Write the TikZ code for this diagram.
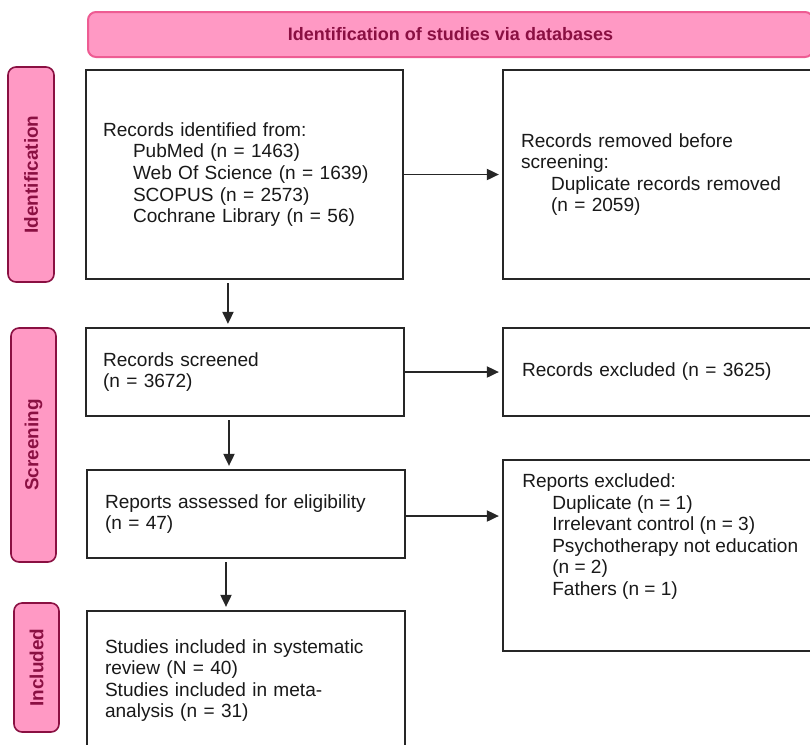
\documentclass[tikz,border=0pt]{standalone}
\usepackage{fontspec}
\setmainfont{Liberation Sans}
\usetikzlibrary{arrows.meta}
\definecolor{pinkfill}{HTML}{FF99C4}
\definecolor{bannerline}{HTML}{EE5C93}
\definecolor{maroonc}{HTML}{8A1042}
\definecolor{boxline}{HTML}{262626}
\newcommand{\ind}{\hspace*{22.5pt}}
\begin{document}
\begin{tikzpicture}[x=0.75pt,y=-0.75pt,
  bodyfont/.style={font=\fontsize{14.3pt}{16.2pt}\selectfont},
  flowbox/.style={draw=boxline, line width=1.3pt, fill=white, align=left,
    bodyfont, inner sep=0pt, text=black!90},
  txt/.style={align=left, bodyfont, inner sep=0pt, text=black!90},
  banner/.style={draw=bannerline, line width=1.5pt, fill=pinkfill, rounded corners=6pt,
    font=\fontsize{13.5pt}{16pt}\selectfont\bfseries, text=maroonc, inner sep=0pt},
  phase/.style={draw=maroonc, line width=1.2pt, fill=pinkfill, rounded corners=6pt,
    font=\fontsize{14.2pt}{16pt}\selectfont\bfseries, text=maroonc, inner sep=0pt, rotate=90},
  conn/.style={-{Triangle[length=9pt,width=8.5pt]}, line width=0.8pt, draw=black!85,
    shorten >=2.5pt}
]
\useasboundingbox (0,0) rectangle (810,744);
\clip (0,0) rectangle (810,744);

% banner
\node[banner, minimum width=543.75pt, minimum height=33.75pt] (ban) at (450.5,34.5)
  {Identification of studies via databases};

% phase labels
\node[phase, minimum width=161.25pt, minimum height=34.5pt] (lid) at (31,174.5) {Identification};
\node[phase, minimum width=175.5pt, minimum height=33.75pt] (lsc) at (33.5,445) {Screening};
\node[phase, minimum width=96.75pt, minimum height=33.75pt] (lin) at (36.5,667.5) {Included};

% boxes
\node[flowbox, minimum width=237.75pt, text width=212.25pt, minimum height=156.75pt] (b1) at (244.5,174.5)
  {Records identified from:\\
   \ind PubMed (n = 1463)\\
   \ind Web Of Science (n = 1639)\\
   \ind SCOPUS (n = 2573)\\
   \ind Cochrane Library (n = 56)};
\node[flowbox, minimum width=245.25pt, text width=218.25pt, minimum height=156.75pt] (b2) at (666.5,174.5)
  {Records removed before\\
   screening:\\
   \ind Duplicate records removed\\
   \ind (n = 2059)};
\node[flowbox, minimum width=238.5pt, text width=213pt, minimum height=66pt] (b3) at (245,372)
  {Records screened\\
   (n = 3672)};
\node[flowbox, minimum width=245.25pt, text width=216.75pt, minimum height=66pt] (b4) at (666.5,372)
  {Records excluded (n = 3625)};
\node[flowbox, minimum width=238.5pt, text width=211.5pt, minimum height=66pt] (b5) at (246,514)
  {Reports assessed for eligibility\\
   (n = 47)};
\node[flowbox, minimum width=245.25pt, minimum height=143.25pt] (b6) at (666.5,555.5) {};
\node[txt, anchor=north west] (b6t) at (522,473.5)
  {Reports excluded:\\
   \ind Duplicate (n = 1)\\
   \ind Irrelevant control (n = 3)\\
   \ind Psychotherapy not education\\
   \ind (n = 2)\\
   \ind Fathers (n = 1)};
\node[flowbox, minimum width=238.5pt, text width=211.5pt, minimum height=104.25pt] (b7) at (246,680.5)
  {Studies included in systematic\\
   review (N = 40)\\
   Studies included in meta-\\
   analysis (n = 31)};

% connectors
\draw[conn] (b1.east) -- (b2.west);
\draw[conn] (b3.east) -- (b4.west);
\draw[conn] ([yshift=-1.5pt]b5.east) -- ([yshift=-1.5pt]b5.east -| b6.west);
\draw[conn, shorten <=2.5pt] ([xshift=-12.4pt]b1.south) -- ([xshift=-12.4pt]b1.south |- b3.north);
\draw[conn, shorten <=2.5pt] ([xshift=-12pt]b3.south) -- ([xshift=-12pt]b3.south |- b5.north);
\draw[conn, shorten <=2.5pt] ([xshift=-15pt]b5.south) -- ([xshift=-15pt]b5.south |- b7.north);
\end{tikzpicture}
\end{document}
